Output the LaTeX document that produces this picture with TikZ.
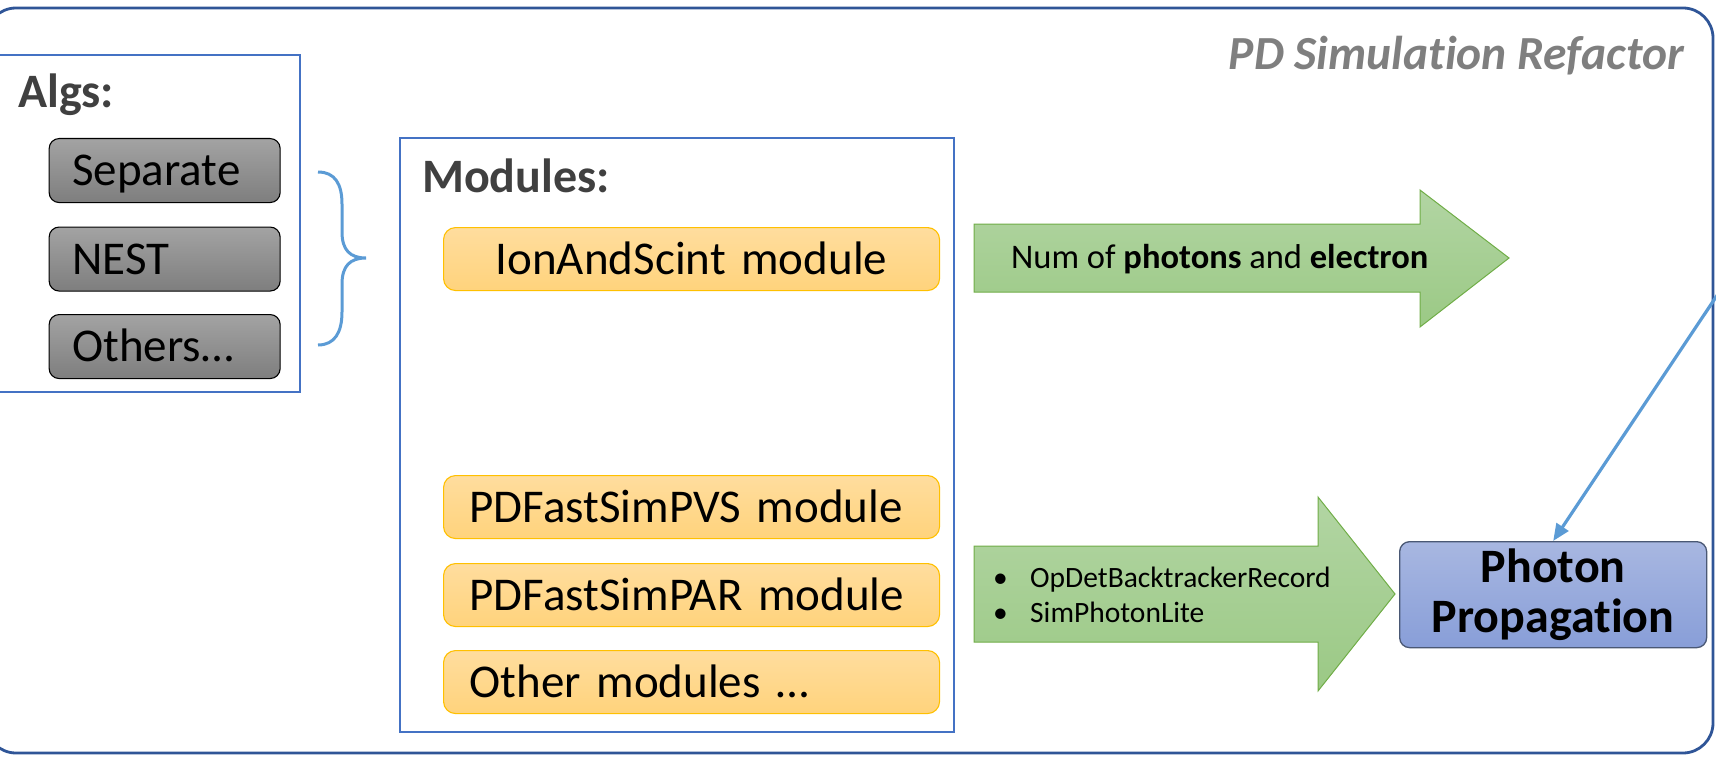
\documentclass[tikz,border=0pt]{standalone}
\usepackage{fontspec}
\setmainfont{Carlito}[Ligatures={NoCommon}]
\usetikzlibrary{arrows.meta}
\definecolor{outerblue}{HTML}{2F5597}
\definecolor{boxblue}{HTML}{4472C4}
\definecolor{lineblue}{HTML}{5B9BD5}
\definecolor{grayT}{HTML}{A3A3A3}
\definecolor{grayB}{HTML}{7E7E7E}
\definecolor{orT}{HTML}{FFDD9E}
\definecolor{orB}{HTML}{FFD37C}
\definecolor{orBorder}{HTML}{FFC000}
\definecolor{grT}{HTML}{B2D5A3}
\definecolor{grB}{HTML}{9BC985}
\definecolor{grBorder}{HTML}{70AD47}
\definecolor{phT}{HTML}{A8B7E1}
\definecolor{phB}{HTML}{889ED8}
\definecolor{phBorder}{HTML}{4A5874}
\definecolor{labgray}{HTML}{404040}
\definecolor{titlegray}{HTML}{7F7F7F}
\tikzset{
  container/.style={draw=boxblue, line width=2.2pt},
  algbox/.style={draw=black, line width=1.1pt, rounded corners=10pt, top color=grayT, bottom color=grayB,
     minimum width=231pt, minimum height=64pt, anchor=north west, inner xsep=23pt, text width=185pt, align=left,
     text height=30pt, text depth=0pt, font=\fontsize{47}{56}\selectfont},
  modbox/.style={draw=orBorder, line width=1.1pt, rounded corners=12pt, top color=orT, bottom color=orB,
     minimum width=496pt, minimum height=63pt, anchor=north west, inner xsep=26pt, text width=444pt,
     text height=30pt, text depth=0pt, font=\fontsize{47}{56}\selectfont},
  bigarrow/.style={draw=grBorder, line width=1pt, top color=grT, bottom color=grB},
  heading/.style={anchor=base west, text=labgray, font=\bfseries\fontsize{48}{56}\selectfont, inner sep=0pt},
}
\begin{document}
\begin{tikzpicture}[x=1pt,y=-1pt]
\useasboundingbox (0,0) rectangle (1716,757);
% outer container
\draw[outerblue, line width=2.8pt, rounded corners=30pt] (-14,8) rectangle (1713,753);
\node[anchor=base east, text=titlegray, font=\bfseries\itshape\fontsize{47.5}{56}\selectfont, inner sep=0pt] (title) at (1684,70) {PD Simulation Refactor};
% Algs
\draw[container, fill=white] (-20,55) rectangle (300,392);
\node[heading] (algs) at (18,108) {Algs:};
\node[algbox] (sep) at (48.6,138) {Separate};
\node[algbox] (nest) at (48.6,226.5) {NEST};
\node[algbox] (oth) at (48.6,314) {Others…};
% brace
\draw[lineblue, line width=3pt] (318,172) .. controls (335,172) and (342,184) .. (342,204) -- (342,232)
   .. controls (342,250) and (350,258) .. (366,258)
   .. controls (350,258) and (342,266) .. (342,284) -- (342,312)
   .. controls (342,332) and (335,345) .. (318,345);
% Modules
\draw[container, fill=white] (400,138) rectangle (954,732);
\node[heading] (mods) at (422,193) {Modules:};
\node[modbox, align=center] (ion) at (443,227) {IonAndScint module};
\node[modbox, align=left] (pvs) at (443,475) {PDFastSimPVS module};
\node[modbox, align=left] (par) at (443,563) {PDFastSimPAR module};
\node[modbox, align=left] (othm) at (443,650) {Other modules …};
% arrows
\path[bigarrow] (974,224) -- (1420,224) -- (1420,190) -- (1509,258) -- (1420,327) -- (1420,292) -- (974,292) -- cycle;
\node[anchor=base west, inner sep=0pt, font=\fontsize{34.5}{40}\selectfont] (numtxt) at (1011,268) {Num of \textbf{photons} and \textbf{electron}};
\path[bigarrow] (974,546) -- (1318,546) -- (1318,497) -- (1395,594) -- (1318,691) -- (1318,642) -- (974,642) -- cycle;
\node[anchor=base west, inner sep=0pt, font=\fontsize{29.5}{35}\selectfont] (bul1) at (993,587) {\makebox[37pt][l]{•}OpDetBacktrackerRecord};
\node[anchor=base west, inner sep=0pt, font=\fontsize{29.5}{35}\selectfont] (bul2) at (993,622) {\makebox[37pt][l]{•}SimPhotonLite};
% photon propagation
\node[draw=phBorder, line width=1.3pt, rounded corners=10pt, top color=phT, bottom color=phB,
   minimum width=307pt, minimum height=106pt, anchor=north west, align=center,
   font=\bfseries\fontsize{48}{50}\selectfont] (phot) at (1399,541) {Photon\\Propagation};
\coordinate (src) at (1732,273);
\draw[lineblue, line width=3.2pt, -{Triangle[length=17pt,width=14pt]}] (src) -- (phot.north);
\end{tikzpicture}
\end{document}
